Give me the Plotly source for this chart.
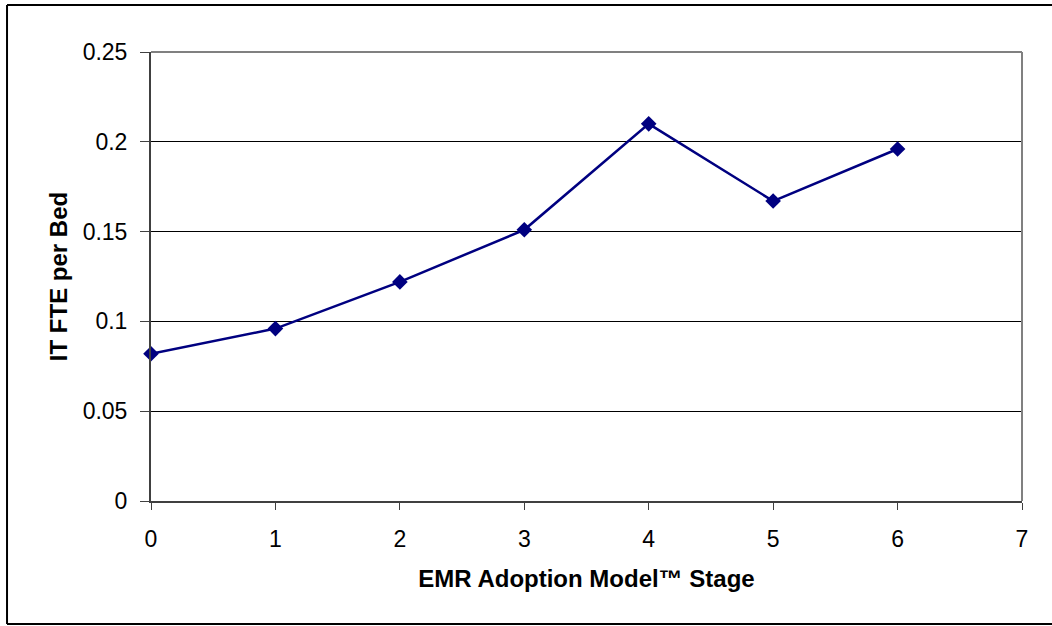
import plotly.graph_objects as go

stages = [0, 1, 2, 3, 4, 5, 6]
fte_per_bed = [0.082, 0.096, 0.122, 0.151, 0.210, 0.167, 0.196]
x_ticks = [0, 1, 2, 3, 4, 5, 6, 7]
y_ticks = [0, 0.05, 0.1, 0.15, 0.2, 0.25]
y_tick_labels = ["0", "0.05", "0.1", "0.15", "0.2", "0.25"]

fig = go.Figure()
fig.add_trace(go.Scatter(
    x=stages, y=fte_per_bed, mode="lines+markers",
    line=dict(color="#000080", width=2.5),
    marker=dict(symbol="diamond", size=12, color="#000080"),
    showlegend=False, cliponaxis=False,
))

font = "Liberation Sans, Arial, sans-serif"
fig.update_layout(
    width=1052, height=626,
    margin=dict(l=151, r=30, t=52, b=125),
    paper_bgcolor="white", plot_bgcolor="white",
    font=dict(family=font, size=23, color="black"),
    xaxis=dict(
        range=[0, 7], tickvals=x_ticks, showgrid=False, zeroline=False,
        showline=True, linecolor="#404040", linewidth=2,
        ticks="outside", ticklen=7, tickcolor="#404040", tickwidth=1,
        ticklabelstandoff=9,
        title=dict(text="<b>EMR Adoption Model™ Stage</b>", font=dict(size=24), standoff=20),
    ),
    yaxis=dict(
        range=[0, 0.25], tickvals=y_ticks, ticktext=y_tick_labels,
        showgrid=True, gridcolor="black", gridwidth=1, zeroline=False,
        showline=True, linecolor="#404040", linewidth=2,
        ticks="outside", ticklen=9, tickcolor="#404040", tickwidth=1,
        ticklabelstandoff=8,
        title=dict(text="<b>IT FTE per Bed</b>", font=dict(size=24), standoff=8),
    ),
    shapes=[
        dict(type="line", xref="paper", yref="paper", x0=0, x1=1, y0=1, y1=1,
             line=dict(color="#808080", width=2), layer="above"),
        dict(type="line", xref="paper", yref="paper", x0=1, x1=1, y0=0, y1=1,
             line=dict(color="#808080", width=2), layer="above"),
        dict(type="line", xref="paper", yref="paper", x0=-0.1653, x1=1.05, y0=1.1047, y1=1.1047,
             line=dict(color="black", width=2)),
        dict(type="line", xref="paper", yref="paper", x0=-0.1653, x1=1.05, y0=-0.2739, y1=-0.2739,
             line=dict(color="black", width=2)),
        dict(type="line", xref="paper", yref="paper", x0=-0.1653, x1=-0.1653, y0=-0.2739, y1=1.1047,
             line=dict(color="black", width=2)),
    ],
)

fig.write_html("out.html", config={"displayModeBar": False},
               post_script="document.body.style.margin='0';")
